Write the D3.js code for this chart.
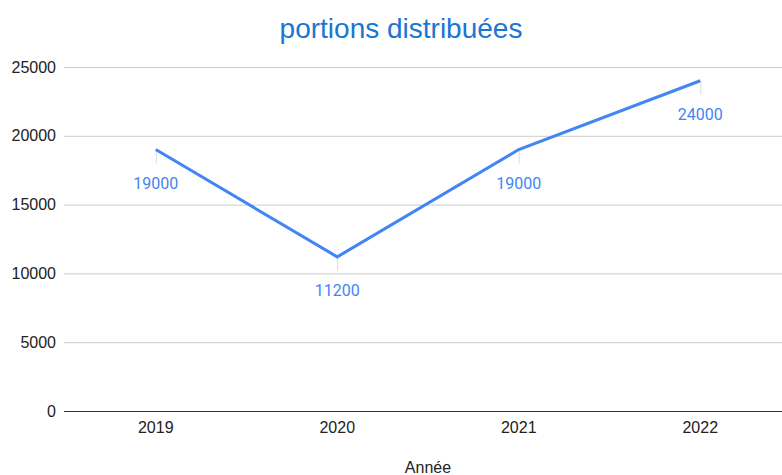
<!DOCTYPE html>
<html>
<head>
<meta charset="utf-8">
<script src="https://cdn.jsdelivr.net/npm/d3@7"></script>
<style>
  body { margin: 0; background: #fff; }
  svg { display: block; font-family: "Liberation Sans", Arial, sans-serif; }
</style>
</head>
<body>
<div id="chart"></div>
<script>
// data
var years = ["2019", "2020", "2021", "2022"];
var portions = [19000, 11200, 19000, 24000];
var yTicks = [0, 5000, 10000, 15000, 20000, 25000];

var width = 782, height = 475;
var margin = { top: 67, right: -9, bottom: 64, left: 65 };
var innerW = width - margin.left - margin.right,
    innerH = height - margin.top - margin.bottom;

var svg = d3.select("#chart")
    .append("svg")
    .attr("width", width)
    .attr("height", height);

var g = svg.append("g")
    .attr("transform", "translate(" + margin.left + "," + margin.top + ")");

var x = d3.scalePoint().domain(years).range([0, innerW]).padding(0.5);
var y = d3.scaleLinear().domain([0, 25000]).range([innerH, 0]);

// title
svg.append("text")
    .attr("x", 401)
    .attr("y", 38)
    .attr("text-anchor", "middle")
    .style("font-size", "28px")
    .style("fill", "#1976d2")
    .text("portions distribuées");

// gridlines
g.append("g")
    .selectAll("line")
    .data(yTicks.filter(function (d) { return d > 0; }))
    .enter()
    .append("line")
    .attr("x1", -1)
    .attr("x2", innerW)
    .attr("y1", function (d) { return y(d) + 0.5; })
    .attr("y2", function (d) { return y(d) + 0.5; })
    .attr("stroke", "#cccccc")
    .attr("stroke-width", 1);

// y labels
g.append("g")
    .selectAll("text")
    .data(yTicks)
    .enter()
    .append("text")
    .attr("x", -9)
    .attr("y", function (d) { return y(d); })
    .attr("dy", "0.35em")
    .attr("text-anchor", "end")
    .style("font-size", "16px")
    .style("fill", "#222")
    .text(function (d) { return d; });

// x labels
g.append("g")
    .selectAll("text")
    .data(years)
    .enter()
    .append("text")
    .attr("x", function (d) { return x(d); })
    .attr("y", innerH + 22)
    .attr("text-anchor", "middle")
    .style("font-size", "16px")
    .style("fill", "#222")
    .text(function (d) { return d; });

// axis title
svg.append("text")
    .attr("x", 428)
    .attr("y", 473)
    .attr("text-anchor", "middle")
    .style("font-size", "16px")
    .style("fill", "#222")
    .text("Année");

// leader lines
var pts = years.map(function (d, i) { return { year: d, value: portions[i] }; });

g.append("g")
    .selectAll("line")
    .data(pts)
    .enter()
    .append("line")
    .attr("x1", function (d) { return x(d.year) + 0.5; })
    .attr("x2", function (d) { return x(d.year) + 0.5; })
    .attr("y1", function (d) { return y(d.value); })
    .attr("y2", function (d) { return y(d.value) + 14; })
    .attr("stroke", "#dddddd")
    .attr("stroke-width", 1);

// baseline
g.append("line")
    .attr("x1", -1)
    .attr("x2", innerW)
    .attr("y1", innerH + 0.5)
    .attr("y2", innerH + 0.5)
    .attr("stroke", "#333")
    .attr("stroke-width", 1);

// line
var line = d3.line()
    .x(function (d) { return x(d.year); })
    .y(function (d) { return y(d.value); });

g.append("path")
    .datum(pts)
    .attr("d", line)
    .attr("fill", "none")
    .attr("stroke", "#4285f4")
    .attr("stroke-width", 3)
    .attr("stroke-linejoin", "miter");

// data labels
g.append("g")
    .selectAll("text")
    .data(pts)
    .enter()
    .append("text")
    .attr("x", function (d) { return x(d.year); })
    .attr("y", function (d) { return y(d.value) + 39; })
    .attr("text-anchor", "middle")
    .style("font-family", "Roboto, sans-serif")
    .style("font-size", "16px")
    .style("fill", "#4285f4")
    .text(function (d) { return d.value; });
</script>
</body>
</html>
